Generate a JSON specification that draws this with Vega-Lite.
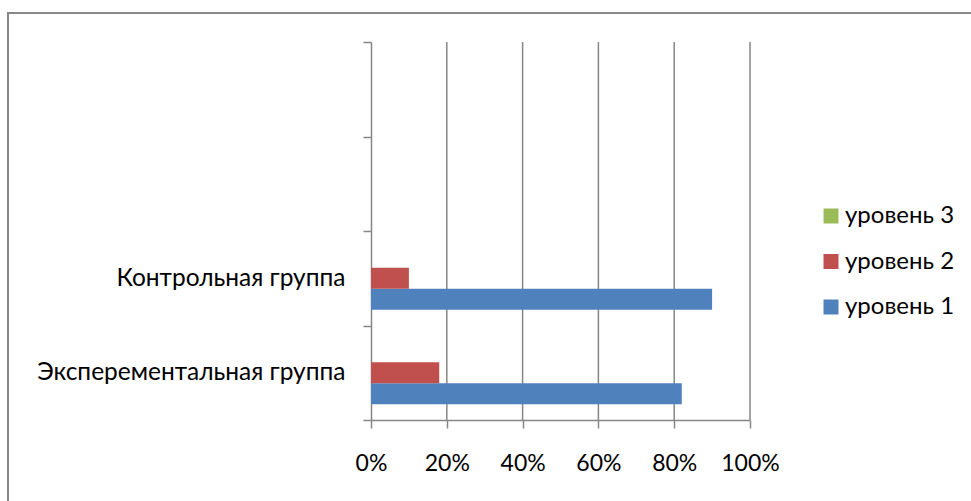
{
  "$schema": "https://vega.github.io/schema/vega-lite/v6.json",
  "autosize": {"type": "none"},
  "padding": {"left": 8, "top": 13, "right": -10, "bottom": -7},
  "width": 973,
  "height": 495,
  "background": "white",
  "config": {
    "view": {"stroke": "#878787", "strokeWidth": 2},
    "font": "Lato"
  },
  "datasets": {
    "shares": [
      {"group": "Контрольная группа", "level": "уровень 1", "value": 0.90},
      {"group": "Контрольная группа", "level": "уровень 2", "value": 0.10},
      {"group": "Контрольная группа", "level": "уровень 3", "value": 0.0},
      {"group": "Эксперементальная группа", "level": "уровень 1", "value": 0.82},
      {"group": "Эксперементальная группа", "level": "уровень 2", "value": 0.18},
      {"group": "Эксперементальная группа", "level": "уровень 3", "value": 0.0}
    ],
    "gridlines": [
      {"tick": 0.2}, {"tick": 0.4}, {"tick": 0.6}, {"tick": 0.8}, {"tick": 1.0}
    ]
  },
  "resolve": {"scale": {"y": "independent"}},
  "layer": [
    {
      "data": {"name": "gridlines"},
      "mark": {"type": "rule", "color": "#878787", "strokeWidth": 1.5},
      "encoding": {
        "x": {
          "field": "tick",
          "type": "quantitative",
          "scale": {"domain": [0, 1], "range": [363, 742], "nice": false}
        },
        "y": {
          "datum": 0,
          "type": "quantitative",
          "scale": {"domain": [0, 1], "range": [29, 407]},
          "axis": null
        },
        "y2": {"datum": 1}
      }
    },
    {
      "data": {"name": "shares"},
      "mark": {"type": "bar"},
      "encoding": {
        "y": {
          "field": "group",
          "type": "nominal",
          "scale": {
            "domain": [" ", "  ", "Контрольная группа", "Эксперементальная группа"],
            "range": [29, 407],
            "paddingInner": 0,
            "paddingOuter": 0
          },
          "axis": {
            "orient": "left",
            "offset": -363,
            "tickBand": "extent",
            "title": null,
            "grid": false,
            "domainColor": "#878787",
            "domainWidth": 1.5,
            "tickColor": "#878787",
            "tickWidth": 1.5,
            "tickSize": 8,
            "labelFontSize": 24.5,
            "labelColor": "#000000",
            "labelPadding": 18,
            "labelLimit": 500
          }
        },
        "yOffset": {
          "field": "level",
          "scale": {
            "domain": ["уровень 3", "уровень 2", "уровень 1"],
            "paddingInner": 0,
            "paddingOuter": 0.75
          }
        },
        "x": {
          "field": "value",
          "type": "quantitative",
          "scale": {"domain": [0, 1], "range": [363, 742], "nice": false},
          "axis": {
            "orient": "bottom",
            "offset": -88,
            "values": [0, 0.2, 0.4, 0.6, 0.8, 1],
            "format": ".0%",
            "title": null,
            "grid": false,
            "domainColor": "#878787",
            "domainWidth": 1.5,
            "tickColor": "#878787",
            "tickWidth": 1.5,
            "tickSize": 8,
            "labelFontSize": 23,
            "labelColor": "#000000",
            "labelPadding": 24,
            "labelFlush": false
          }
        },
        "color": {
          "field": "level",
          "type": "nominal",
          "scale": {
            "domain": ["уровень 3", "уровень 2", "уровень 1"],
            "range": ["#9BBB59", "#C0504D", "#4F81BD"]
          },
          "legend": {
            "orient": "none",
            "legendX": 811,
            "legendY": 191,
            "title": null,
            "symbolType": "square",
            "symbolSize": 225,
            "symbolStrokeWidth": 0,
            "labelFontSize": 24,
            "labelColor": "#000000",
            "labelOffset": 2,
            "rowPadding": 21.5
          }
        }
      }
    }
  ]
}
